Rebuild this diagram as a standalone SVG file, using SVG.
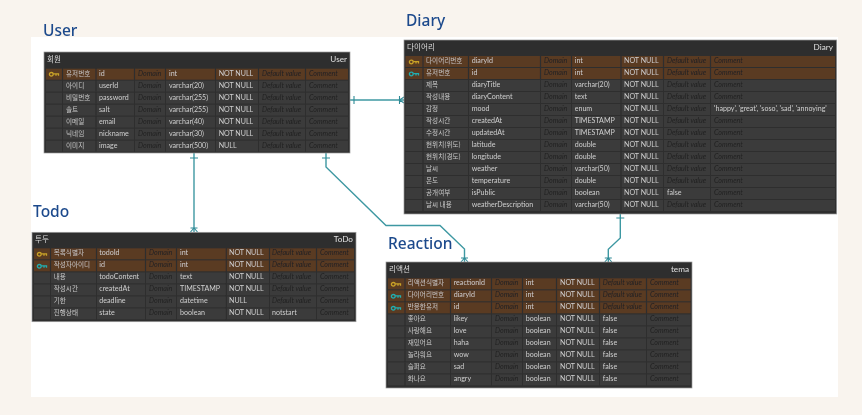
<svg xmlns="http://www.w3.org/2000/svg" width="862" height="415" viewBox="0 0 862 415">
<style>
text{font-family:"Lato","Liberation Sans",sans-serif;font-size:7.1px;fill:#cfcfcf}
.k{font-family:"Noto Sans CJK KR","Noto Sans",sans-serif;font-size:6.6px;fill:#c8c8c8}
.m{font-style:italic;fill:#222222}
.h{font-size:8.2px;fill:#e0e0e0}
.hk{font-family:"Noto Sans CJK KR","Noto Sans",sans-serif;font-size:7.6px;fill:#dcdcdc}
.e{text-anchor:end}
.lab{font-family:"Noto Sans","Liberation Sans",sans-serif;font-weight:500;font-size:15.500px;fill:#1d4a8c}
.bg{fill:#2e2e2e;stroke:#9a9a9a;stroke-width:.7}
.r{fill:#3b3b3b}.p{fill:#5a3a24}
.g{stroke:#2e2e2e;stroke-width:1.1}
.c{fill:none;stroke:#3e98a2;stroke-width:1.4}
.tb{fill:none;stroke:#2f8a96;stroke-width:1.1}
</style>
<defs>
<g id="key" fill="none" stroke-width="1.3">
<ellipse cx="2.300" cy="0" rx="1.900" ry="1.800"/><path d="M4.200 -.4H9.500V1.400M7 -.4V1.400"/>
</g>
<filter id="soft" x="0" y="0" width="1" height="1"><feGaussianBlur stdDeviation="0.3"/></filter>
</defs>
<g filter="url(#soft)">
<rect width="862" height="415" fill="#f9f4ee"/>
<rect x="31" y="37" width="807" height="360" fill="#ffffff"/>
<text class="lab" x="43" y="36">User</text>
<text class="lab" x="406" y="26">Diary</text>
<text class="lab" x="33" y="217">Todo</text>
<text class="lab" x="388" y="249">Reaction</text>

<g id="connectors">
<path class="c" d="M350 100H404"/><path class="tb" d="M354 96V104M404 97L399.500 100L404 103M399.500 96V104"/>
<path class="c" d="M194 153V232"/><path class="tb" d="M190 158H198M190.500 232L194 228L197.500 232M190.500 228H197.500"/>
<path class="c" d="M326 153V167L386 225.500H440L464.500 249V262"/><path class="tb" d="M322 158H330M461 262L464.500 258L468 262M461 258H468"/>
<path class="c" d="M620.300 214V238L608.300 249.300V262"/><path class="tb" d="M616.300 218H624.300M604.800 262L608.300 258L611.800 262M604.800 258H611.800"/>
</g>

<g id="user">
<rect class="bg" x="44" y="52" width="306" height="101"/>
<rect class="p" x="46" y="68.700" width="302" height="11"/>
<rect class="r" x="46" y="80.700" width="302" height="11"/><rect class="r" x="46" y="92.700" width="302" height="11"/><rect class="r" x="46" y="104.700" width="302" height="11"/><rect class="r" x="46" y="116.700" width="302" height="11"/><rect class="r" x="46" y="128.700" width="302" height="11"/><rect class="r" x="46" y="140.700" width="302" height="11"/>
<path class="g" d="M62.500 68V152M96 68V152M134.500 68V152M165.500 68V152M215.500 68V152M258.500 68V152M305.500 68V152"/>
<use href="#key" x="49" y="74.300" stroke="#c9a227"/>
<text class="hk" x="47" y="61.500">회원</text><text class="h e" x="347" y="62">User</text>
<text class="k" x="66" y="75.500">유저번호</text><text x="99" y="76">id</text><text class="m" x="138" y="76">Domain</text><text x="169" y="76">int</text><text x="218.700" y="76">NOT NULL</text><text class="m" x="262" y="76">Default value</text><text class="m" x="309" y="76">Comment</text>
<text class="k" x="66" y="87.500">아이디</text><text x="99" y="88">userId</text><text class="m" x="138" y="88">Domain</text><text x="169" y="88">varchar(20)</text><text x="218.700" y="88">NOT NULL</text><text class="m" x="262" y="88">Default value</text><text class="m" x="309" y="88">Comment</text>
<text class="k" x="66" y="99.500">비밀번호</text><text x="99" y="100">password</text><text class="m" x="138" y="100">Domain</text><text x="169" y="100">varchar(255)</text><text x="218.700" y="100">NOT NULL</text><text class="m" x="262" y="100">Default value</text><text class="m" x="309" y="100">Comment</text>
<text class="k" x="66" y="111.500">솔트</text><text x="99" y="112">salt</text><text class="m" x="138" y="112">Domain</text><text x="169" y="112">varchar(255)</text><text x="218.700" y="112">NOT NULL</text><text class="m" x="262" y="112">Default value</text><text class="m" x="309" y="112">Comment</text>
<text class="k" x="66" y="123.500">이메일</text><text x="99" y="124">email</text><text class="m" x="138" y="124">Domain</text><text x="169" y="124">varchar(40)</text><text x="218.700" y="124">NOT NULL</text><text class="m" x="262" y="124">Default value</text><text class="m" x="309" y="124">Comment</text>
<text class="k" x="66" y="135.500">닉네임</text><text x="99" y="136">nickname</text><text class="m" x="138" y="136">Domain</text><text x="169" y="136">varchar(30)</text><text x="218.700" y="136">NOT NULL</text><text class="m" x="262" y="136">Default value</text><text class="m" x="309" y="136">Comment</text>
<text class="k" x="66" y="147.500">이미지</text><text x="99" y="148">image</text><text class="m" x="138" y="148">Domain</text><text x="169" y="148">varchar(500)</text><text x="218.700" y="148">NULL</text><text class="m" x="262" y="148">Default value</text><text class="m" x="309" y="148">Comment</text>
</g>

<g id="diary">
<rect class="bg" x="404" y="40" width="432.700" height="174"/>
<rect class="p" x="405.500" y="56" width="429.700" height="11"/><rect class="p" x="405.500" y="68" width="429.700" height="11"/>
<rect class="r" x="405.500" y="80" width="429.700" height="11"/><rect class="r" x="405.500" y="92" width="429.700" height="11"/><rect class="r" x="405.500" y="104" width="429.700" height="11"/><rect class="r" x="405.500" y="116" width="429.700" height="11"/><rect class="r" x="405.500" y="128" width="429.700" height="11"/><rect class="r" x="405.500" y="140" width="429.700" height="11"/><rect class="r" x="405.500" y="152" width="429.700" height="11"/><rect class="r" x="405.500" y="164" width="429.700" height="11"/><rect class="r" x="405.500" y="176" width="429.700" height="11"/><rect class="r" x="405.500" y="188" width="429.700" height="11"/><rect class="r" x="405.500" y="200" width="429.700" height="11"/>
<path class="g" d="M423 55V212M468.500 55V212M540.500 55V212M571.500 55V212M621 55V212M663.500 55V212M710.500 55V212"/>
<use href="#key" x="409" y="62" stroke="#c9a227"/><use href="#key" x="409" y="74" stroke="#22aeb0"/>
<text class="hk" x="407" y="49.500">다이어리</text><text class="h e" x="833" y="49.800">Diary</text>
<text class="k" x="426" y="62.500">다이어리번호</text><text x="471.700" y="63.300">diaryId</text><text class="m" x="544" y="63.300">Domain</text><text x="574.700" y="63.300">int</text><text x="624" y="63.300">NOT NULL</text><text class="m" x="667" y="63.300">Default value</text><text class="m" x="714" y="63.300">Comment</text>
<text class="k" x="426" y="74.500">유저번호</text><text x="471.700" y="75.300">id</text><text class="m" x="544" y="75.300">Domain</text><text x="574.700" y="75.300">int</text><text x="624" y="75.300">NOT NULL</text><text class="m" x="667" y="75.300">Default value</text><text class="m" x="714" y="75.300">Comment</text>
<text class="k" x="426" y="86.500">제목</text><text x="471.700" y="87.300">diaryTitle</text><text class="m" x="544" y="87.300">Domain</text><text x="574.700" y="87.300">varchar(20)</text><text x="624" y="87.300">NOT NULL</text><text class="m" x="667" y="87.300">Default value</text><text class="m" x="714" y="87.300">Comment</text>
<text class="k" x="426" y="98.500">작성내용</text><text x="471.700" y="99.300">diaryContent</text><text class="m" x="544" y="99.300">Domain</text><text x="574.700" y="99.300">text</text><text x="624" y="99.300">NOT NULL</text><text class="m" x="667" y="99.300">Default value</text><text class="m" x="714" y="99.300">Comment</text>
<text class="k" x="426" y="110.500">감정</text><text x="471.700" y="111.300">mood</text><text class="m" x="544" y="111.300">Domain</text><text x="574.700" y="111.300">enum</text><text x="624" y="111.300">NOT NULL</text><text class="m" x="667" y="111.300">Default value</text><text x="714" y="111.300">'happy', 'great', 'soso', 'sad', 'annoying'</text>
<text class="k" x="426" y="122.500">작성시간</text><text x="471.700" y="123.300">createdAt</text><text class="m" x="544" y="123.300">Domain</text><text x="574.700" y="123.300">TIMESTAMP</text><text x="624" y="123.300">NOT NULL</text><text class="m" x="667" y="123.300">Default value</text><text class="m" x="714" y="123.300">Comment</text>
<text class="k" x="426" y="134.500">수정시간</text><text x="471.700" y="135.300">updatedAt</text><text class="m" x="544" y="135.300">Domain</text><text x="574.700" y="135.300">TIMESTAMP</text><text x="624" y="135.300">NOT NULL</text><text class="m" x="667" y="135.300">Default value</text><text class="m" x="714" y="135.300">Comment</text>
<text class="k" x="426" y="146.500">현위치(위도)</text><text x="471.700" y="147.300">latitude</text><text class="m" x="544" y="147.300">Domain</text><text x="574.700" y="147.300">double</text><text x="624" y="147.300">NOT NULL</text><text class="m" x="667" y="147.300">Default value</text><text class="m" x="714" y="147.300">Comment</text>
<text class="k" x="426" y="158.500">현위치(경도)</text><text x="471.700" y="159.300">longitude</text><text class="m" x="544" y="159.300">Domain</text><text x="574.700" y="159.300">double</text><text x="624" y="159.300">NOT NULL</text><text class="m" x="667" y="159.300">Default value</text><text class="m" x="714" y="159.300">Comment</text>
<text class="k" x="426" y="170.500">날씨</text><text x="471.700" y="171.300">weather</text><text class="m" x="544" y="171.300">Domain</text><text x="574.700" y="171.300">varchar(50)</text><text x="624" y="171.300">NOT NULL</text><text class="m" x="667" y="171.300">Default value</text><text class="m" x="714" y="171.300">Comment</text>
<text class="k" x="426" y="182.500">온도</text><text x="471.700" y="183.300">temperature</text><text class="m" x="544" y="183.300">Domain</text><text x="574.700" y="183.300">double</text><text x="624" y="183.300">NOT NULL</text><text class="m" x="667" y="183.300">Default value</text><text class="m" x="714" y="183.300">Comment</text>
<text class="k" x="426" y="194.500">공개여부</text><text x="471.700" y="195.300">isPublic</text><text class="m" x="544" y="195.300">Domain</text><text x="574.700" y="195.300">boolean</text><text x="624" y="195.300">NOT NULL</text><text x="667" y="195.300">false</text><text class="m" x="714" y="195.300">Comment</text>
<text class="k" x="426" y="206.500">날씨 내용</text><text x="471.700" y="207.300">weatherDescription</text><text class="m" x="544" y="207.300">Domain</text><text x="574.700" y="207.300">varchar(50)</text><text x="624" y="207.300">NOT NULL</text><text class="m" x="667" y="207.300">Default value</text><text class="m" x="714" y="207.300">Comment</text>
</g>

<g id="todo">
<rect class="bg" x="32" y="232.300" width="324" height="89.400"/>
<rect class="p" x="34" y="248.300" width="320" height="11"/><rect class="p" x="34" y="260.300" width="320" height="11"/>
<rect class="r" x="34" y="272.300" width="320" height="11"/><rect class="r" x="34" y="284.300" width="320" height="11"/><rect class="r" x="34" y="296.300" width="320" height="11"/><rect class="r" x="34" y="308.300" width="320" height="11"/>
<path class="g" d="M50.500 247V320M96.500 247V320M145.500 247V320M176.500 247V320M226.300 247V320M269.500 247V320M316.500 247V320"/>
<use href="#key" x="37" y="254.300" stroke="#c9a227"/><use href="#key" x="37" y="266.300" stroke="#22aeb0"/>
<text class="hk" x="35" y="241.500">투두</text><text class="h e" x="353" y="242">ToDo</text>
<text class="k" x="53.700" y="254.500">목록식별자</text><text x="99.300" y="255.300">todoId</text><text class="m" x="149" y="255.300">Domain</text><text x="180" y="255.300">int</text><text x="229" y="255.300">NOT NULL</text><text class="m" x="272" y="255.300">Default value</text><text class="m" x="320" y="255.300">Comment</text>
<text class="k" x="53.700" y="266.500">작성자아이디</text><text x="99.300" y="267.300">id</text><text class="m" x="149" y="267.300">Domain</text><text x="180" y="267.300">int</text><text x="229" y="267.300">NOT NULL</text><text class="m" x="272" y="267.300">Default value</text><text class="m" x="320" y="267.300">Comment</text>
<text class="k" x="53.700" y="278.500">내용</text><text x="99.300" y="279.300">todoContent</text><text class="m" x="149" y="279.300">Domain</text><text x="180" y="279.300">text</text><text x="229" y="279.300">NOT NULL</text><text class="m" x="272" y="279.300">Default value</text><text class="m" x="320" y="279.300">Comment</text>
<text class="k" x="53.700" y="290.500">작성시간</text><text x="99.300" y="291.300">createdAt</text><text class="m" x="149" y="291.300">Domain</text><text x="180" y="291.300">TIMESTAMP</text><text x="229" y="291.300">NOT NULL</text><text class="m" x="272" y="291.300">Default value</text><text class="m" x="320" y="291.300">Comment</text>
<text class="k" x="53.700" y="302.500">기한</text><text x="99.300" y="303.300">deadline</text><text class="m" x="149" y="303.300">Domain</text><text x="180" y="303.300">datetime</text><text x="229" y="303.300">NULL</text><text class="m" x="272" y="303.300">Default value</text><text class="m" x="320" y="303.300">Comment</text>
<text class="k" x="53.700" y="314.500">진행상태</text><text x="99.300" y="315.300">state</text><text class="m" x="149" y="315.300">Domain</text><text x="180" y="315.300">boolean</text><text x="229" y="315.300">NOT NULL</text><text x="272" y="315.300">notstart</text><text class="m" x="320" y="315.300">Comment</text>
</g>

<g id="reaction">
<rect class="bg" x="386" y="262" width="306" height="126"/>
<rect class="p" x="388" y="278.300" width="302.500" height="11"/><rect class="p" x="388" y="290.300" width="302.500" height="11"/><rect class="p" x="388" y="302.300" width="302.500" height="11"/>
<rect class="r" x="388" y="314.300" width="302.500" height="11"/><rect class="r" x="388" y="326.300" width="302.500" height="11"/><rect class="r" x="388" y="338.300" width="302.500" height="11"/><rect class="r" x="388" y="350.300" width="302.500" height="11"/><rect class="r" x="388" y="362.300" width="302.500" height="11"/><rect class="r" x="388" y="374.300" width="302.500" height="11"/>
<path class="g" d="M405 277V386M450.500 277V386M491.500 277V386M522.500 277V386M556.500 277V386M599.500 277V386M646.500 277V386"/>
<use href="#key" x="391" y="284.300" stroke="#c9a227"/><use href="#key" x="391" y="296.300" stroke="#22aeb0"/><use href="#key" x="391" y="308.300" stroke="#22aeb0"/>
<text class="hk" x="389" y="271.500">리액션</text><text class="h e" x="689" y="272">tema</text>
<text class="k" x="407.700" y="284.500">리액션식별자</text><text x="453.700" y="285.300">reactionId</text><text class="m" x="495" y="285.300">Domain</text><text x="525.700" y="285.300">int</text><text x="560" y="285.300">NOT NULL</text><text class="m" x="602.700" y="285.300">Default value</text><text class="m" x="650" y="285.300">Comment</text>
<text class="k" x="407.700" y="296.500">다이어리번호</text><text x="453.700" y="297.300">diaryId</text><text class="m" x="495" y="297.300">Domain</text><text x="525.700" y="297.300">int</text><text x="560" y="297.300">NOT NULL</text><text class="m" x="602.700" y="297.300">Default value</text><text class="m" x="650" y="297.300">Comment</text>
<text class="k" x="407.700" y="308.500">반응한유저</text><text x="453.700" y="309.300">id</text><text class="m" x="495" y="309.300">Domain</text><text x="525.700" y="309.300">int</text><text x="560" y="309.300">NOT NULL</text><text class="m" x="602.700" y="309.300">Default value</text><text class="m" x="650" y="309.300">Comment</text>
<text class="k" x="407.700" y="320.500">좋아요</text><text x="453.700" y="321.300">likey</text><text class="m" x="495" y="321.300">Domain</text><text x="525.700" y="321.300">boolean</text><text x="560" y="321.300">NOT NULL</text><text x="602.700" y="321.300">false</text><text class="m" x="650" y="321.300">Comment</text>
<text class="k" x="407.700" y="332.500">사랑해요</text><text x="453.700" y="333.300">love</text><text class="m" x="495" y="333.300">Domain</text><text x="525.700" y="333.300">boolean</text><text x="560" y="333.300">NOT NULL</text><text x="602.700" y="333.300">false</text><text class="m" x="650" y="333.300">Comment</text>
<text class="k" x="407.700" y="344.500">재밌어요</text><text x="453.700" y="345.300">haha</text><text class="m" x="495" y="345.300">Domain</text><text x="525.700" y="345.300">boolean</text><text x="560" y="345.300">NOT NULL</text><text x="602.700" y="345.300">false</text><text class="m" x="650" y="345.300">Comment</text>
<text class="k" x="407.700" y="356.500">놀라워요</text><text x="453.700" y="357.300">wow</text><text class="m" x="495" y="357.300">Domain</text><text x="525.700" y="357.300">boolean</text><text x="560" y="357.300">NOT NULL</text><text x="602.700" y="357.300">false</text><text class="m" x="650" y="357.300">Comment</text>
<text class="k" x="407.700" y="368.500">슬퍼요</text><text x="453.700" y="369.300">sad</text><text class="m" x="495" y="369.300">Domain</text><text x="525.700" y="369.300">boolean</text><text x="560" y="369.300">NOT NULL</text><text x="602.700" y="369.300">false</text><text class="m" x="650" y="369.300">Comment</text>
<text class="k" x="407.700" y="380.500">화나요</text><text x="453.700" y="381.300">angry</text><text class="m" x="495" y="381.300">Domain</text><text x="525.700" y="381.300">boolean</text><text x="560" y="381.300">NOT NULL</text><text x="602.700" y="381.300">false</text><text class="m" x="650" y="381.300">Comment</text>
</g>
</g>
</svg>
